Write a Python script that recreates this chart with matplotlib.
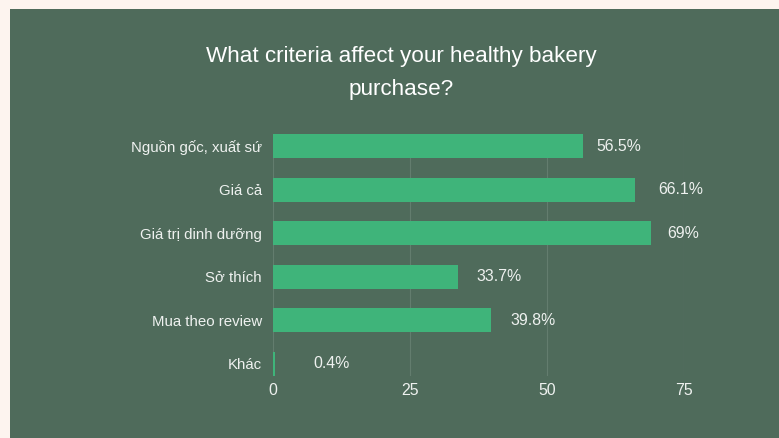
import matplotlib
matplotlib.use("Agg")
import matplotlib.pyplot as plt
from matplotlib.patches import Rectangle

plt.rcParams['font.family'] = ['Liberation Sans', 'DejaVu Sans']

categories = ["Nguồn gốc, xuất sứ", "Giá cả", "Giá trị dinh dưỡng", "Sở thích", "Mua theo review", "Khác"]
values = [56.5, 66.1, 69, 33.7, 39.8, 0.4]
value_labels = ["56.5%", "66.1%", "69%", "33.7%", "39.8%", "0.4%"]
xticks = [0, 25, 50, 75]
title = "What criteria affect your healthy bakery\npurchase?"

# style: horizontal gap (pixels) between each bar end and its value label
label_gap_px = [14, 23, 16, 19, 19, 38]

BG = "#4f6b5b"
BORDER = "#fdf4ef"
BAR = "#3fb47a"
TXT = "#eef1ef"
GRID = "#637d6e"

fig = plt.figure(figsize=(7.79, 4.38), dpi=100)
fig.patch.set_facecolor(BORDER)
fig.patches.append(Rectangle((10 / 779, 0), 1, 1 - 9 / 438, transform=fig.transFigure,
                             facecolor=BG, edgecolor='none', zorder=-5))

ax = fig.add_axes([273 / 779, 62 / 438, 411 / 779, 242 / 438])
ax.set_zorder(2)
ax.set_facecolor('none')
y = list(range(len(categories)))
ax.barh(y, values, height=0.55, color=BAR, zorder=3)
ax.set_xlim(0, 75)
ax.set_ylim(len(categories) - 1 + 0.276, -0.276)

for yi, v, lab, gap in zip(y, values, value_labels, label_gap_px):
    ax.annotate(lab, (v, yi), xytext=(gap, 0), textcoords='offset pixels',
                va='center', ha='left', color=TXT, fontsize=11.4, zorder=4)

ax.set_yticks(y)
ax.set_yticklabels(categories, color=TXT, fontsize=10.8)
ax.set_xticks(xticks)
ax.set_xticklabels([str(t) for t in xticks], color=TXT, fontsize=11.4)
ax.tick_params(axis='y', length=0, pad=8)
ax.tick_params(axis='x', length=0, pad=5)
for t in xticks:
    ax.axvline(t, color=GRID, linewidth=0.8, zorder=1)
for s in ax.spines.values():
    s.set_visible(False)

fig.text(401 / 779, 1 - 73 / 438, title, ha='center', va='center', color='white',
         fontsize=16.2, linespacing=1.7, zorder=3)

fig.savefig("out.png", dpi=100, facecolor=fig.get_facecolor())
